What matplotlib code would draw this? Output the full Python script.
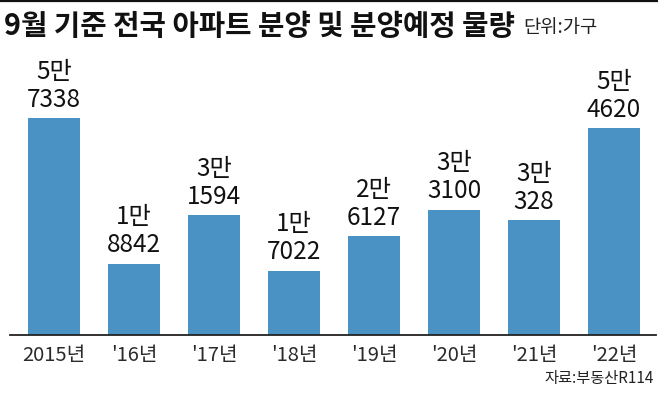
import matplotlib
matplotlib.use("Agg")
import matplotlib.pyplot as plt

plt.rcParams['font.family'] = ['Noto Sans CJK KR', 'DejaVu Sans']

categories = ["2015년", "'16년", "'17년", "'18년", "'19년", "'20년", "'21년", "'22년"]
values = [57338, 18842, 31594, 17022, 26127, 33100, 30328, 54620]
value_labels = ["5만\n7338", "1만\n8842", "3만\n1594", "1만\n7022",
                "2만\n6127", "3만\n3100", "3만\n328", "5만\n4620"]

title = "9월 기준 전국 아파트 분양 및 분양예정 물량"
unit = "단위:가구"
source = "자료:부동산R114"

W, H = 658, 396
fig = plt.figure(figsize=(W / 100, H / 100), dpi=100)
fig.patch.set_facecolor("white")

# axes placement in pixels
left_px, right_px = 10, 656
base_px = 335
top_px = 335 - 227
ax = fig.add_axes([left_px / W, (H - base_px) / H, (right_px - left_px) / W, (base_px - top_px) / H])

bar_color = "#4a92c4"
x = list(range(len(categories)))
ax.bar(x, values, width=0.66, color=bar_color, zorder=2)
ax.set_xlim(-0.55, 7.525)
ax.set_ylim(0, 60000)

for xi, v, lab in zip(x, values, value_labels):
    ax.annotate(lab, (xi, v), xytext=(0, 4), textcoords="offset points",
                ha="center", va="bottom", fontsize=17.5, color="#111111",
                linespacing=1.1)

for s in ["top", "right", "left"]:
    ax.spines[s].set_visible(False)
ax.spines["bottom"].set_color("#222222")
ax.spines["bottom"].set_linewidth(1.3)
ax.set_yticks([])
ax.set_xticks(x)
ax.set_xticklabels(categories, fontsize=14.5, color="#2a2a2a")
ax.tick_params(axis="x", length=0, pad=7)

# top rule
fig.add_artist(plt.Line2D([0, 1], [1 - 1 / H, 1 - 1 / H], color="#111111", linewidth=1.6,
                          transform=fig.transFigure))

fig.text(4 / W, 1 - 26 / H, title, fontsize=20.7, fontweight="bold", color="#111111",
         ha="left", va="center")
fig.text(523 / W, 1 - 28 / H, unit, fontsize=13.5, color="#222222", ha="left", va="center")
fig.text(654 / W, 1 - 379 / H, source, fontsize=11, color="#222222", ha="right", va="center")

fig.savefig("out.png", dpi=100)
